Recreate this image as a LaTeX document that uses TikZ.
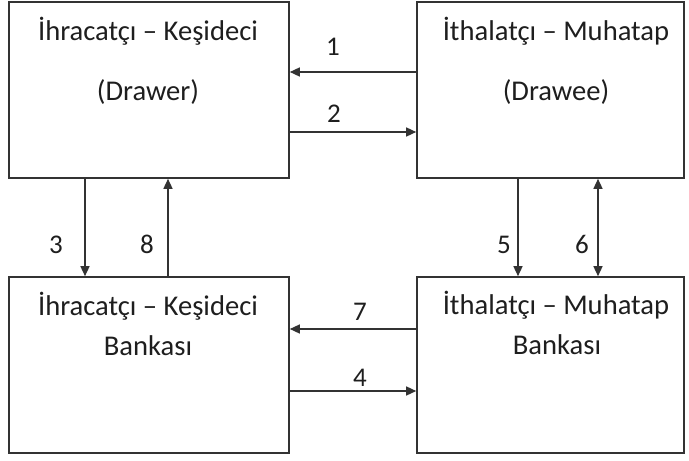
\documentclass[tikz,border=0pt]{standalone}
\usepackage{fontspec}
\setmainfont{Carlito}
\usetikzlibrary{arrows.meta}
\definecolor{ln}{HTML}{333333}
\definecolor{tx}{HTML}{1E1E1E}
\tikzset{
  box/.style={draw=ln, line width=1.6pt, minimum width=#1, minimum height=176pt, inner sep=0pt},
  lbl/.style={text=tx, font=\fontsize{28.6}{32}\selectfont, inner sep=0pt, anchor=base},
  num/.style={text=tx, font=\fontsize{27}{30}\selectfont, inner sep=0pt, anchor=base},
  conn/.style={draw=ln, line width=1.4pt, -{Triangle[length=10pt,width=9pt]}},
  conn2/.style={draw=ln, line width=1.4pt, {Triangle[length=10pt,width=9pt]}-{Triangle[length=10pt,width=9pt]}}
}
\begin{document}
\begin{tikzpicture}[x=1pt,y=-1pt]
\useasboundingbox (0,0) rectangle (689,461);
\node[box=280pt] (A) at (149,90) {};
\node[box=267pt] (B) at (550.5,90) {};
\node[box=280pt] (C) at (149,365) {};
\node[box=267pt] (D) at (550.5,365) {};
% texts
\node[lbl] (a1) at (148,40) {İhracatçı – Keşideci};
\node[lbl] (a2) at (148,100) {(Drawer)};
\node[lbl] (b1) at (556,40) {İthalatçı – Muhatap};
\node[lbl] (b2) at (556,100) {(Drawee)};
\node[lbl] (c1) at (148,315) {İhracatçı – Keşideci};
\node[lbl] (c2) at (148,355) {Bankası};
\node[lbl] (d1) at (556,314) {İthalatçı – Muhatap};
\node[lbl] (d2) at (557,354) {Bankası};
% connectors
\draw[conn] (B.west |- 0,72) -- (A.east |- 0,72);
\draw[conn] (A.east |- 0,132) -- (B.west |- 0,132);
\draw[conn] (A.south -| 85,0) -- (C.north -| 85,0);
\draw[conn] (C.north -| 168,0) -- (A.south -| 168,0);
\draw[conn] (B.south -| 518,0) -- (D.north -| 518,0);
\draw[conn2] (B.south -| 598,0) -- (D.north -| 598,0);
\draw[conn] (D.west |- 0,329) -- (C.east |- 0,329);
\draw[conn] (C.east |- 0,391) -- (D.west |- 0,391);
% labels
\node[num] (n1) at (333,55) {1};
\node[num] (n2) at (334,122) {2};
\node[num] (n3) at (56,253) {3};
\node[num] (n8) at (147,253) {8};
\node[num] (n5) at (504,253) {5};
\node[num] (n6) at (582,253) {6};
\node[num] (n7) at (360,320) {7};
\node[num] (n4) at (360,386) {4};
\end{tikzpicture}
\end{document}
